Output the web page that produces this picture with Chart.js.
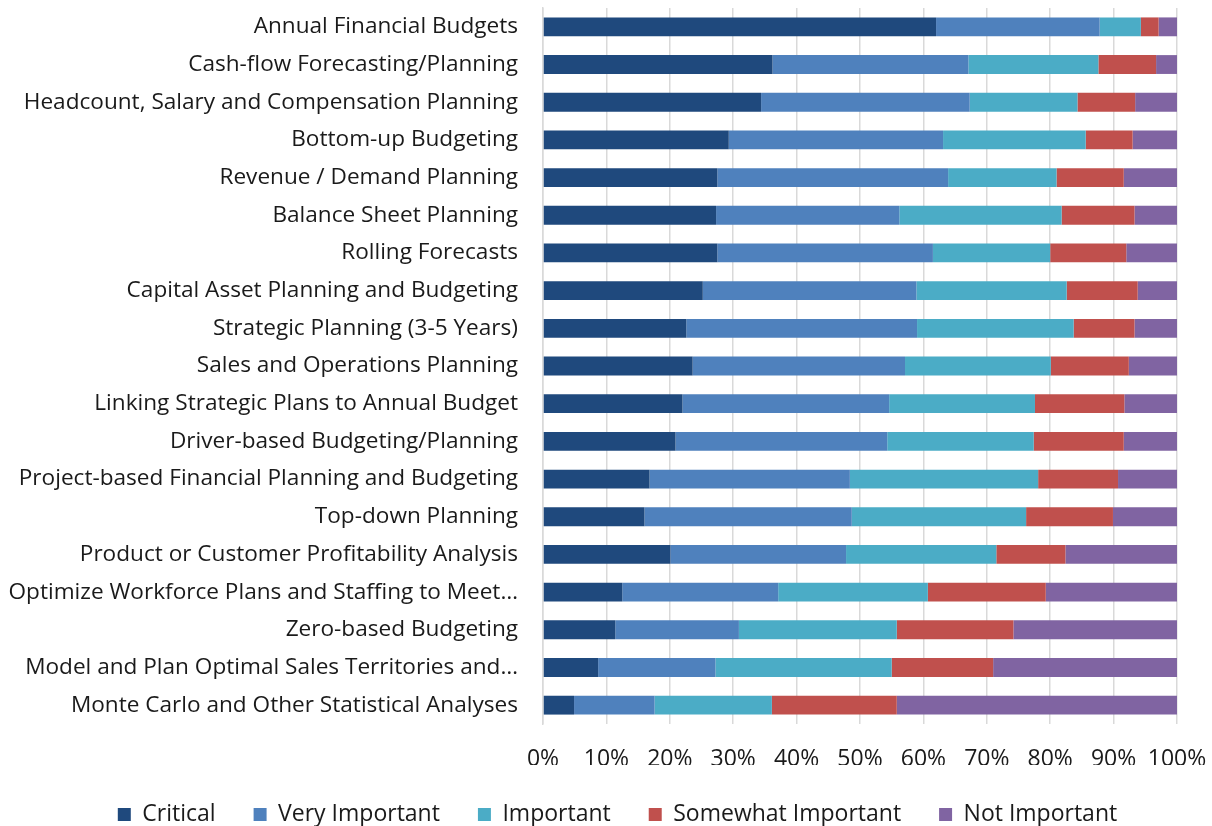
<!DOCTYPE html>
<html>
<head>
<meta charset="utf-8">
<script src="https://cdn.jsdelivr.net/npm/chart.js@4/dist/chart.umd.min.js"></script>
<style>
  html, body { margin: 0; padding: 0; background: #fff; }
  #wrap { width: 1212px; height: 826px; }
</style>
</head>
<body>
<div id="wrap"><canvas id="chart"></canvas></div>
<script>
// Planning activities (top to bottom)
const categories = [
    'Annual Financial Budgets',
    'Cash-flow Forecasting/Planning',
    'Headcount, Salary and Compensation Planning',
    'Bottom-up Budgeting',
    'Revenue / Demand Planning',
    'Balance Sheet Planning',
    'Rolling Forecasts',
    'Capital Asset Planning and Budgeting',
    'Strategic Planning (3-5 Years)',
    'Sales and Operations Planning',
    'Linking Strategic Plans to Annual Budget',
    'Driver-based Budgeting/Planning',
    'Project-based Financial Planning and Budgeting',
    'Top-down Planning',
    'Product or Customer Profitability Analysis',
    'Optimize Workforce Plans and Staffing to Meet\u2026',
    'Zero-based Budgeting',
    'Model and Plan Optimal Sales Territories and\u2026',
    'Monte Carlo and Other Statistical Analyses'
];

// Percent of respondents per importance level
const critical      = [62.0, 36.2, 34.4, 29.3, 27.5, 27.3, 27.5, 25.2, 22.6, 23.6, 22.0, 20.9, 16.8, 16.0, 20.1, 12.5, 11.4, 8.7, 4.9];
const veryImportant = [25.8, 30.9, 32.9, 33.8, 36.4, 28.9, 34.0, 33.7, 36.4, 33.5, 32.6, 33.4, 31.6, 32.7, 27.7, 24.6, 19.5, 18.5, 12.7];
const important     = [6.5, 20.5, 17.0, 22.5, 17.1, 25.6, 18.5, 23.7, 24.7, 23.0, 23.0, 23.1, 29.7, 27.5, 23.7, 23.6, 24.9, 27.8, 18.5];
const somewhat      = [2.8, 9.1, 9.1, 7.4, 10.6, 11.5, 12.0, 11.2, 9.6, 12.3, 14.1, 14.2, 12.6, 13.7, 10.9, 18.6, 18.4, 16.0, 19.7];
const notImportant  = [2.9, 3.3, 6.6, 7.0, 8.4, 6.7, 8.0, 6.2, 6.7, 7.6, 8.3, 8.4, 9.3, 10.1, 17.6, 20.7, 25.8, 29.0, 44.2];

const seriesNames = ['Critical', 'Very Important', 'Important', 'Somewhat Important', 'Not Important'];
const seriesColors = ['#1F497D', '#4F81BD', '#4BACC6', '#C0504D', '#8064A2'];
const seriesData = [critical, veryImportant, important, somewhat, notImportant];

const fontFamily = "'Open Sans', 'Liberation Sans', sans-serif";

// The original legend sits a bit right of centre
const legendShift = {
    id: 'legendShift',
    afterLayout(chart) {
        chart.legend.left += 29;
        chart.legend.right += 29;
    }
};

new Chart(document.getElementById('chart'), {
    type: 'bar',
    data: {
        labels: categories,
        datasets: seriesNames.map((name, i) => ({
            label: name,
            data: seriesData[i],
            backgroundColor: seriesColors[i],
            borderWidth: 0,
            barPercentage: 0.5,
            categoryPercentage: 1.0
        }))
    },
    options: {
        indexAxis: 'y',
        responsive: true,
        maintainAspectRatio: false,
        animation: false,
        layout: {
            padding: { top: 8, right: 35, bottom: -10, left: 0 }
        },
        plugins: {
            legend: {
                position: 'bottom',
                labels: {
                    color: '#1a1a1a',
                    font: { family: fontFamily, size: 23 },
                    boxWidth: 13,
                    boxHeight: 13,
                    padding: 38
                }
            },
            tooltip: { enabled: false }
        },
        scales: {
            x: {
                stacked: true,
                min: 0,
                max: 100,
                ticks: {
                    stepSize: 10,
                    color: '#1a1a1a',
                    padding: 22,
                    autoSkip: false,
                    minRotation: 0,
                    maxRotation: 0,
                    font: { family: fontFamily, size: 23 },
                    callback: v => v + '%'
                },
                grid: {
                    color: '#d9d9d9',
                    lineWidth: 1.5,
                    drawTicks: false
                },
                border: { display: false },
                // keep the tick labels close to the legend like the original
                afterFit: s => { s.height = 41; s.paddingLeft = 0; s.paddingRight = 0; }
            },
            y: {
                stacked: true,
                ticks: {
                    color: '#1a1a1a',
                    padding: 25,
                    autoSkip: false,
                    font: { family: fontFamily, size: 22.6 }
                },
                grid: { display: false, drawTicks: false },
                border: { display: true, color: '#d9d9d9', width: 1.5 },
                afterFit: s => { s.width = 543; s.paddingTop = 0; s.paddingBottom = 0; }
            }
        }
    },
    plugins: [legendShift]
});
</script>
</body>
</html>
